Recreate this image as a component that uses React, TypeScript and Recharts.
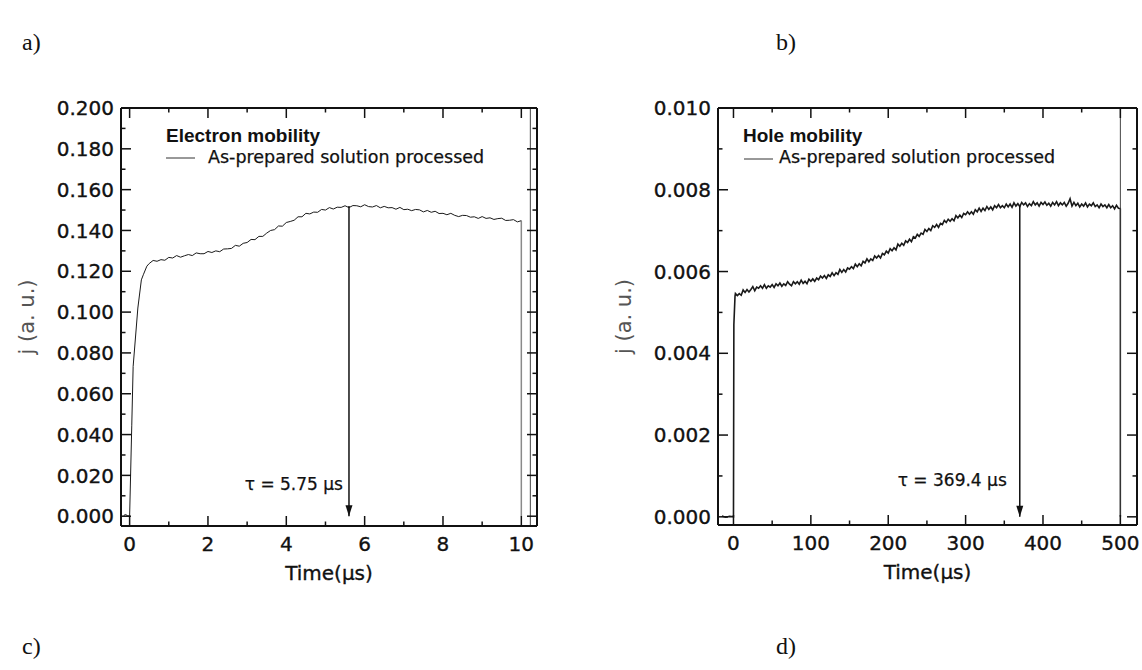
import React from 'react';
import { LineChart, Line, XAxis, YAxis, ReferenceLine, ReferenceDot } from 'recharts';

const SANS = '"DejaVu Sans", sans-serif';
const HELV = '"Liberation Sans", Arial, sans-serif';
const SERIF = '"Liberation Serif", "Times New Roman", serif';

// a) electron transient, time in µs
const electronTime = [
  -0.15, -0.1, -0.05, 0, 0.055, 0.09, 0.21, 0.3, 0.35, 0.44, 0.5,
  0.6, 0.7, 0.8, 0.9, 1.0, 1.1, 1.2, 1.3, 1.4, 1.5, 1.6, 1.7, 1.8, 1.9,
  2.0, 2.1, 2.2, 2.3, 2.4, 2.5, 2.6, 2.7, 2.8, 2.9, 3.0, 3.1, 3.2, 3.3, 3.4,
  3.5, 3.6, 3.7, 3.8, 3.9, 4.0, 4.1, 4.2, 4.3, 4.4, 4.5, 4.6, 4.7, 4.8, 4.9,
  5.0, 5.1, 5.2, 5.3, 5.4, 5.5, 5.6, 5.7, 5.8, 5.9, 6.0, 6.1, 6.2, 6.3, 6.4,
  6.5, 6.6, 6.7, 6.8, 6.9, 7.0, 7.1, 7.2, 7.3, 7.4, 7.5, 7.6, 7.7, 7.8, 7.9,
  8.0, 8.1, 8.2, 8.3, 8.4, 8.5, 8.6, 8.7, 8.8, 8.9, 9.0, 9.1, 9.2, 9.3, 9.4,
  9.5, 9.6, 9.7, 9.8, 9.9, 10.0,
];
const electronJ = [
  0.0004, 0.0008, 0.0002, 0.0, 0.0446, 0.0734, 0.102, 0.1158, 0.1183, 0.1225, 0.1238,
  0.1253, 0.1249, 0.1257, 0.1254, 0.1268, 0.1265, 0.1277, 0.1269, 0.1276, 0.1282, 0.1277, 0.129, 0.1286, 0.1286,
  0.1297, 0.1292, 0.13, 0.1296, 0.1309, 0.131, 0.1312, 0.1327, 0.1323, 0.1337, 0.1341, 0.1356, 0.1355, 0.1371, 0.1371,
  0.1387, 0.14, 0.1404, 0.1422, 0.1421, 0.1439, 0.1444, 0.145, 0.1467, 0.1467, 0.1484, 0.1481, 0.149, 0.1489, 0.1503,
  0.15, 0.1512, 0.1505, 0.1514, 0.1513, 0.1521, 0.1512, 0.1522, 0.1521, 0.1516, 0.1526, 0.1517, 0.1515, 0.1522, 0.1511,
  0.1518, 0.1511, 0.1512, 0.1504, 0.1513, 0.1502, 0.1504, 0.1497, 0.1503, 0.1501, 0.1491, 0.1498, 0.1489, 0.1494, 0.1483,
  0.1484, 0.1477, 0.1484, 0.1474, 0.1468, 0.1474, 0.1473, 0.1465, 0.1467, 0.1459, 0.1468, 0.1459, 0.1462, 0.1454, 0.1458,
  0.146, 0.1449, 0.145, 0.1453, 0.1442, 0.1448,
];
const electronDropTime = [10, 10];
const electronDropJ = [0.1448, 0];
const electronXTicks = [0, 1, 2, 3, 4, 5, 6, 7, 8, 9, 10];
const electronYTicks = [
  0, 0.01, 0.02, 0.03, 0.04, 0.05, 0.06, 0.07, 0.08, 0.09, 0.1,
  0.11, 0.12, 0.13, 0.14, 0.15, 0.16, 0.17, 0.18, 0.19, 0.2,
];

// b) hole transient, time in µs
const holeTime = [
  -15, -10, -5, 0, 0.5, 2,
  2.5, 5, 7.5, 10, 12.5, 15, 17.5, 20, 22.5, 25, 27.5, 30, 32.5, 35, 37.5, 40, 42.5, 45, 47.5, 50,
  52.5, 55, 57.5, 60, 62.5, 65, 67.5, 70, 72.5, 75, 77.5, 80, 82.5, 85, 87.5, 90, 92.5, 95, 97.5, 100,
  102.5, 105, 107.5, 110, 112.5, 115, 117.5, 120, 122.5, 125, 127.5, 130, 132.5, 135, 137.5, 140, 142.5, 145, 147.5, 150,
  152.5, 155, 157.5, 160, 162.5, 165, 167.5, 170, 172.5, 175, 177.5, 180, 182.5, 185, 187.5, 190, 192.5, 195, 197.5, 200,
  202.5, 205, 207.5, 210, 212.5, 215, 217.5, 220, 222.5, 225, 227.5, 230, 232.5, 235, 237.5, 240, 242.5, 245, 247.5, 250,
  252.5, 255, 257.5, 260, 262.5, 265, 267.5, 270, 272.5, 275, 277.5, 280, 282.5, 285, 287.5, 290, 292.5, 295, 297.5, 300,
  302.5, 305, 307.5, 310, 312.5, 315, 317.5, 320, 322.5, 325, 327.5, 330, 332.5, 335, 337.5, 340, 342.5, 345, 347.5, 350,
  352.5, 355, 357.5, 360, 362.5, 365, 367.5, 370, 372.5, 375, 377.5, 380, 382.5, 385, 387.5, 390, 392.5, 395, 397.5, 400,
  402.5, 405, 407.5, 410, 412.5, 415, 417.5, 420, 422.5, 425, 427.5, 430, 432.5, 435, 437.5, 440, 442.5, 445, 447.5, 450,
  452.5, 455, 457.5, 460, 462.5, 465, 467.5, 470, 472.5, 475, 477.5, 480, 482.5, 485, 487.5, 490, 492.5, 495, 497.5, 500,
];
const holeJ = [
  0.00002, -0.00001, 0.00001, 0, 0.0047, 0.0054,
  0.00546, 0.00541, 0.00546, 0.00542, 0.00555, 0.00549, 0.00556, 0.0055, 0.00556, 0.00563,
  0.00553, 0.00562, 0.00559, 0.00565, 0.00559, 0.00568, 0.00559, 0.00565, 0.00562, 0.00568,
  0.00561, 0.0057, 0.00565, 0.00572, 0.00564, 0.0057, 0.00566, 0.00575, 0.00569, 0.00565,
  0.00575, 0.0057, 0.00575, 0.00569, 0.00579, 0.00571, 0.00576, 0.0057, 0.00581, 0.00576,
  0.00582, 0.00576, 0.00584, 0.0058, 0.00589, 0.00584, 0.0059, 0.00583, 0.00592, 0.00588,
  0.00597, 0.0059, 0.00597, 0.00593, 0.00605, 0.00598, 0.00605, 0.00599, 0.00609, 0.00606,
  0.00612, 0.00607, 0.00618, 0.00612, 0.00619, 0.00614, 0.00625, 0.00621, 0.00631, 0.00624,
  0.00631, 0.00627, 0.00638, 0.00633, 0.00639, 0.00633, 0.00644, 0.00641, 0.0065, 0.00645,
  0.00656, 0.00651, 0.00658, 0.00653, 0.00667, 0.00662, 0.00669, 0.00664, 0.00675, 0.00671,
  0.00679, 0.00673, 0.00685, 0.00682, 0.00691, 0.00686, 0.00694, 0.00691, 0.00703, 0.00698,
  0.00705, 0.007, 0.00712, 0.00708, 0.00715, 0.00708, 0.00718, 0.00715, 0.00725, 0.0072,
  0.00728, 0.00723, 0.00729, 0.00724, 0.00737, 0.00731, 0.00738, 0.00732, 0.00742, 0.00739,
  0.00746, 0.0074, 0.00746, 0.0074, 0.00751, 0.00746, 0.00755, 0.00747, 0.00755, 0.00749,
  0.00759, 0.00752, 0.00758, 0.00751, 0.00761, 0.00756, 0.00764, 0.00756, 0.00761, 0.00756,
  0.00765, 0.00758, 0.00765, 0.00757, 0.00768, 0.0076, 0.00766, 0.00759, 0.00769, 0.00763,
  0.00768, 0.00759, 0.00766, 0.00761, 0.00771, 0.00763, 0.00768, 0.0076, 0.00769, 0.00764,
  0.0077, 0.00762, 0.00767, 0.0076, 0.00769, 0.00763, 0.00771, 0.00761, 0.00768, 0.00763,
  0.00769, 0.0076, 0.00767, 0.00778, 0.0076, 0.00769, 0.00761, 0.00767, 0.00758, 0.00765,
  0.0076, 0.00768, 0.00758, 0.00765, 0.00761, 0.00768, 0.00759, 0.00763, 0.00756, 0.00765,
  0.00759, 0.00763, 0.00756, 0.00764, 0.00756, 0.00761, 0.00753, 0.00762, 0.00755, 0.00754,
];
const holeDropTime = [500, 500];
const holeDropJ = [0.00754, 0];
const holeXTicks = [0, 50, 100, 150, 200, 250, 300, 350, 400, 450, 500];
const holeYTicks = [0, 0.001, 0.002, 0.003, 0.004, 0.005, 0.006, 0.007, 0.008, 0.009, 0.01];

const toRows = (ts: number[], js: number[]) => ts.map((t, i) => ({ t, j: js[i] }));

const onStep = (step: number) => (v: number) => Math.abs(v / step - Math.round(v / step)) < 1e-6;

// inward-pointing ticks (tickSize 0 / tickMargin 0 puts x,y right on the frame)
const makeTick =
  (side: 'bottom' | 'top' | 'left' | 'right', isMajor: (v: number) => boolean, fmt?: (v: number) => string) =>
  (props: any) => {
    const { x, y, payload } = props;
    const v = payload.value as number;
    const major = isMajor(v);
    const len = major ? 10 : 4.5;
    let line;
    if (side === 'bottom') line = <line x1={x} y1={y} x2={x} y2={y - len} />;
    else if (side === 'top') line = <line x1={x} y1={y} x2={x} y2={y + len} />;
    else if (side === 'left') line = <line x1={x} y1={y} x2={x + len} y2={y} />;
    else line = <line x1={x} y1={y} x2={x - len} y2={y} />;
    const txt = { fill: '#111', stroke: '#111', strokeWidth: 0.35, fontSize: 20, fontFamily: SANS };
    return (
      <g>
        <g stroke="#111" strokeWidth={1.5}>{line}</g>
        {major && fmt && side === 'bottom' && (
          <text x={x} y={y + 24.5} textAnchor="middle" {...txt}>
            {fmt(v)}
          </text>
        )}
        {major && fmt && side === 'left' && (
          <text x={x - 7} y={y + 7.2} textAnchor="end" {...txt}>
            {fmt(v)}
          </text>
        )}
      </g>
    );
  };

const arrowHead = (props: any) => (
  <path d={`M${props.cx},${props.cy} L${props.cx - 3.5},${props.cy - 11} L${props.cx + 3.5},${props.cy - 11} Z`} fill="#111" />
);

const tauText = (text: string, gap: number) => (props: any) => (
  <text x={props.cx - gap} y={props.cy + 6} textAnchor="end" fill="#111" stroke="#111" strokeWidth={0.25} fontSize={17} fontFamily={SANS}>
    {text}
  </text>
);

interface PanelProps {
  left: number;
  width: number;
  margin: { top: number; right: number; bottom: number; left: number };
  rows: { t: number; j: number }[];
  drop: { t: number; j: number }[];
  dropColor: string;
  strokeWidth: number;
  xDomain: [number, number];
  yDomain: [number, number];
  xTicks: number[];
  yTicks: number[];
  xMajor: number;
  yMajor: number;
  fullLineX: number;
  tauX: number;
  tauTop: number;
  tauLabelY: number;
  tauLabel: string;
  tauGap: number;
}

const Panel: React.FC<PanelProps> = (p) => {
  const xm = onStep(p.xMajor);
  const ym = onStep(p.yMajor);
  const yLabel = (props: any) => {
    const vb = props.viewBox;
    const cx = vb.x + vb.width - 87;
    const cy = vb.y + vb.height / 2;
    return (
      <text x={cx} y={cy} transform={`rotate(-90, ${cx}, ${cy})`} textAnchor="middle" fill="#555" fontSize={21} fontFamily={SANS}>
        j (a. u.)
      </text>
    );
  };
  return (
    <div style={{ position: 'absolute', left: p.left, top: 0 }}>
      <LineChart width={p.width} height={620} margin={p.margin}>
        <XAxis
          type="number"
          dataKey="t"
          domain={p.xDomain}
          ticks={p.xTicks}
          interval={0}
          allowDataOverflow
          height={60}
          tickSize={0}
          tickMargin={0}
          tickLine={false}
          axisLine={{ stroke: '#111', strokeWidth: 2 }}
          tick={makeTick('bottom', xm, (v) => String(v))}
          label={{ value: 'Time(µs)', position: 'insideTop', offset: 40, fill: '#111', stroke: '#111', strokeWidth: 0.35, fontSize: 20, fontFamily: SANS }}
        />
        <XAxis
          xAxisId="top"
          orientation="top"
          type="number"
          dataKey="t"
          domain={p.xDomain}
          ticks={p.xTicks}
          interval={0}
          allowDataOverflow
          height={1}
          tickSize={0}
          tickMargin={0}
          tickLine={false}
          axisLine={{ stroke: '#111', strokeWidth: 2 }}
          tick={makeTick('top', xm)}
        />
        <YAxis
          type="number"
          domain={p.yDomain}
          ticks={p.yTicks}
          interval={0}
          allowDataOverflow
          width={100}
          tickSize={0}
          tickMargin={0}
          tickLine={false}
          axisLine={{ stroke: '#111', strokeWidth: 2 }}
          tick={makeTick('left', ym, (v) => v.toFixed(3))}
          label={yLabel}
        />
        <YAxis
          yAxisId="right"
          orientation="right"
          type="number"
          domain={p.yDomain}
          ticks={p.yTicks}
          interval={0}
          allowDataOverflow
          width={1}
          tickSize={0}
          tickMargin={0}
          tickLine={false}
          axisLine={{ stroke: '#111', strokeWidth: 2 }}
          tick={makeTick('right', ym)}
        />
        <ReferenceLine x={p.fullLineX} stroke="#444" strokeWidth={1} />
        <Line
          data={p.rows}
          dataKey="j"
          xAxisId="top"
          yAxisId="right"
          stroke="none"
          dot={false}
          activeDot={false}
          isAnimationActive={false}
        />
        <Line data={p.drop} dataKey="j" type="linear" stroke={p.dropColor} strokeWidth={1.5} dot={false} isAnimationActive={false} />
        <Line data={p.rows} dataKey="j" type="linear" stroke="#1a1a1a" strokeWidth={p.strokeWidth} dot={false} isAnimationActive={false} />
        <ReferenceLine
          segment={[
            { x: p.tauX, y: p.tauTop },
            { x: p.tauX, y: 0 },
          ]}
          stroke="#111"
          strokeWidth={1.5}
        />
        <ReferenceDot x={p.tauX} y={0} r={3} shape={arrowHead} />
        <ReferenceDot x={p.tauX} y={p.tauLabelY} r={1} shape={tauText(p.tauLabel, p.tauGap)} />
      </LineChart>
    </div>
  );
};

export default function App() {
  return (
    <div style={{ position: 'absolute', left: 0, top: 0, width: 1142, height: 670, background: '#fff', overflow: 'hidden' }}>
      <Panel
        left={0}
        width={560}
        margin={{ top: 107, right: 22, bottom: 34, left: 21 }}
        rows={toRows(electronTime, electronJ)}
        drop={toRows(electronDropTime, electronDropJ)}
        dropColor="#8a8a8a"
        strokeWidth={1}
        xDomain={[-0.22, 10.4]}
        yDomain={[-0.0048, 0.2]}
        xTicks={electronXTicks}
        yTicks={electronYTicks}
        xMajor={2}
        yMajor={0.02}
        fullLineX={10.23}
        tauX={5.6}
        tauTop={0.152}
        tauLabelY={0.0157}
        tauLabel="τ = 5.75 µs"
        tauGap={6}
      />
      <Panel
        left={580}
        width={562}
        margin={{ top: 107, right: 4, bottom: 35, left: 38 }}
        rows={toRows(holeTime, holeJ)}
        drop={toRows(holeDropTime, holeDropJ)}
        dropColor="#333"
        strokeWidth={1.6}
        xDomain={[-20, 521.5]}
        yDomain={[-0.0002, 0.01]}
        xTicks={holeXTicks}
        yTicks={holeYTicks}
        xMajor={100}
        yMajor={0.002}
        fullLineX={500}
        tauX={370}
        tauTop={0.0076}
        tauLabelY={0.00091}
        tauLabel="τ = 369.4 µs"
        tauGap={13}
      />
      <svg width={1142} height={670} style={{ position: 'absolute', left: 0, top: 0, pointerEvents: 'none' }}>
        <g fontFamily={SERIF} fontSize={24} fill="#111">
          <text x={22} y={50}>a)</text>
          <text x={776} y={50}>b)</text>
          <text x={22} y={654}>c)</text>
          <text x={776} y={654}>d)</text>
        </g>
        <text x={166} y={142} fontFamily={HELV} fontWeight="bold" fontSize={19} fill="#111">Electron mobility</text>
        <line x1={166} y1={158} x2={195} y2={158} stroke="#333" strokeWidth={1} />
        <text x={208} y={163} fontFamily={SANS} fontSize={17.5} fill="#111" stroke="#111" strokeWidth={0.25}>As-prepared solution processed</text>
        <text x={743} y={142} fontFamily={HELV} fontWeight="bold" fontSize={19} fill="#111">Hole mobility</text>
        <line x1={744} y1={159} x2={773} y2={159} stroke="#333" strokeWidth={1} />
        <text x={779} y={163} fontFamily={SANS} fontSize={17.5} fill="#111" stroke="#111" strokeWidth={0.25}>As-prepared solution processed</text>
      </svg>
    </div>
  );
}
